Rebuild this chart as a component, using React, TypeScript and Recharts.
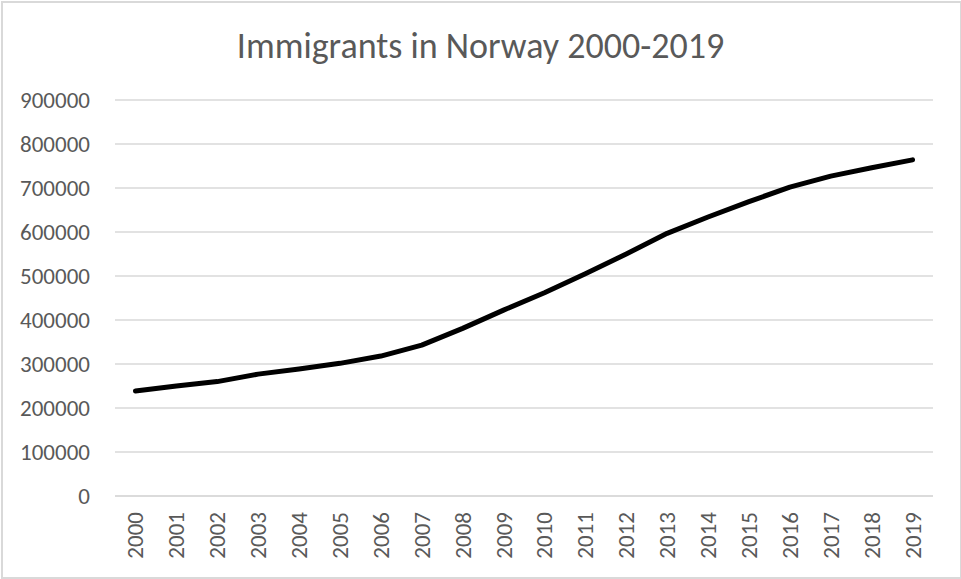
import React from 'react';
import { LineChart, Line, XAxis, YAxis, CartesianGrid } from 'recharts';

// Immigrants living in Norway, 1 January each year
const years = [
  '2000', '2001', '2002', '2003', '2004', '2005', '2006', '2007', '2008', '2009',
  '2010', '2011', '2012', '2013', '2014', '2015', '2016', '2017', '2018', '2019',
];
const immigrants = [
  238600, 250000, 260000, 277000, 288500, 301500, 318000, 343000, 381000, 422500,
  462000, 505000, 550000, 597000, 634000, 669000, 702000, 727000, 746000, 764000,
];
const yTicks = [0, 100000, 200000, 300000, 400000, 500000, 600000, 700000, 800000, 900000];

const data = years.map((year, i) => ({ year, value: immigrants[i] }));

const FONT = "Carlito, 'Open Sans', sans-serif";
const TEXT = '#595959';
const GRID = '#d9d9d9';

const YearTick = (props: any) => {
  const { x, y, payload } = props;
  return (
    <text
      x={x}
      y={y}
      transform={`rotate(-90 ${x} ${y})`}
      textAnchor="end"
      dominantBaseline="central"
      fill={TEXT}
      fontSize={23}
      fontFamily={FONT}
    >
      {payload.value}
    </text>
  );
};

export default function App() {
  return (
    <div style={{ position: 'absolute', left: 0, top: 0, width: 961, height: 579, background: '#fff' }}>
      <div
        style={{
          position: 'absolute', left: 1, top: 1, width: 957, height: 574,
          border: `2px solid ${GRID}`,
        }}
      />
      <div
        style={{
          position: 'absolute', left: 0, top: 26, width: 961, textAlign: 'center',
          fontFamily: FONT, fontSize: 36, color: TEXT, lineHeight: '40px',
        }}
      >
        Immigrants in Norway 2000-2019
      </div>
      <LineChart
        width={961}
        height={579}
        data={data}
        margin={{ top: 100, right: 28, bottom: 0, left: 0 }}
        style={{ position: 'absolute', left: 0, top: 0 }}
      >
        <CartesianGrid horizontal vertical={false} stroke={GRID} strokeWidth={1.5} />
        <XAxis
          dataKey="year"
          height={83}
          padding={{ left: 20.45, right: 20.45 }}
          axisLine={{ stroke: GRID, strokeWidth: 1.5 }}
          tickLine={false}
          tickSize={0}
          tickMargin={16}
          interval={0}
          tick={<YearTick />}
        />
        <YAxis
          width={115}
          domain={[0, 900000]}
          ticks={yTicks}
          axisLine={false}
          tickLine={false}
          tickSize={0}
          tickMargin={25}
          tick={{ fill: TEXT, fontSize: 23, fontFamily: FONT }}
        />
        <Line
          type="linear"
          dataKey="value"
          stroke="#000"
          strokeWidth={5}
          strokeLinecap="round"
          strokeLinejoin="round"
          dot={false}
          activeDot={false}
          isAnimationActive={false}
        />
      </LineChart>
    </div>
  );
}
